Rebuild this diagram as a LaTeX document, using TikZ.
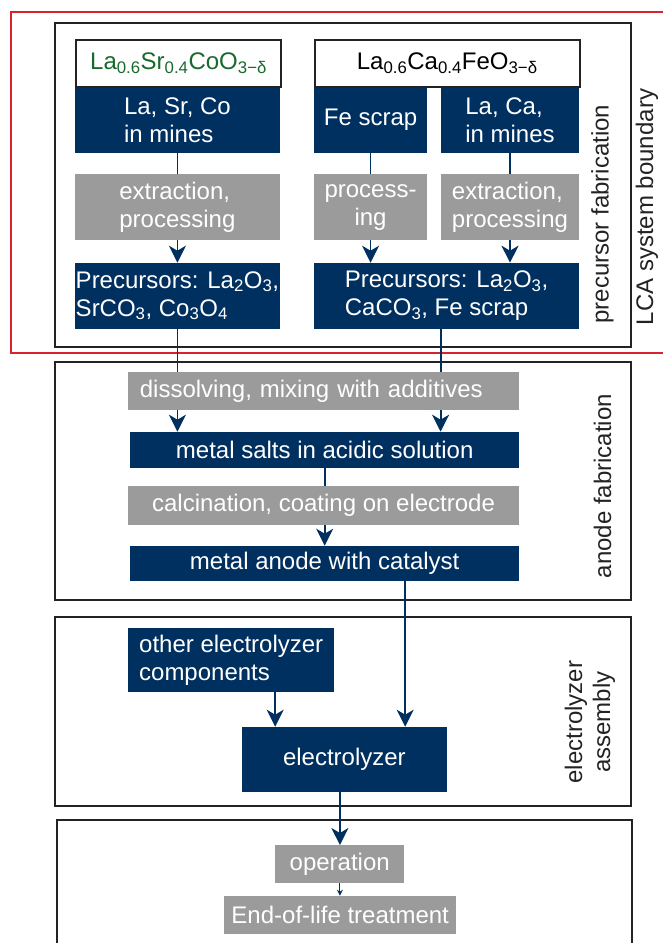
\documentclass[tikz,border=0pt]{standalone}
\usepackage{fontspec}
\setmainfont{Liberation Sans}
\usetikzlibrary{arrows.meta}
\definecolor{navy}{RGB}{0,48,96}
\definecolor{greyc}{RGB}{155,155,155}
\definecolor{formgreen}{RGB}{25,105,45}
\definecolor{redline}{RGB}{215,35,45}
\definecolor{framec}{RGB}{35,35,35}
\begin{document}
\begin{tikzpicture}[x=1pt,y=-1pt,
  font=\fontsize{24}{28}\selectfont,
  boxbase/.style={inner sep=0pt, anchor=north west, text=white, align=left},
  navybox/.style={boxbase, fill=navy},
  greybox/.style={boxbase, fill=greyc},
  formbox/.style={boxbase, fill=white, draw=framec, line width=1.8pt, align=center},
  frame/.style={draw=framec, line width=2.2pt},
  lbl/.style={rotate=90, align=center, text=framec},
  conn/.style={draw=navy, line width=1.8pt},
  arr/.style={conn, -{Stealth[length=17pt,width=17pt,inset=5pt]}},
  smallarr/.style={draw=navy, line width=1pt, -{Stealth[length=6pt,width=6pt,inset=2pt]}}
]
\useasboundingbox (0,0) rectangle (663,943);
\clip (0,0) rectangle (663,943);
\fill[white] (0,0) rectangle (663,943);

% frames
\draw[draw=redline, line width=2pt] (11.4,12.3) rectangle (690,352.7);
\draw[frame] (55,22.7) rectangle (631,346.7);
\draw[frame] (55,361.7) rectangle (631,600);
\draw[frame] (55,616.7) rectangle (631,806);
\draw[frame] (56.7,820) rectangle (632,980);

% precursor fabrication
\node[formbox, text=formgreen, minimum width=204.7pt, minimum height=47pt] (f1) at (75.3,39)
  {La\textsubscript{0.6}Sr\textsubscript{0.4}CoO\textsubscript{3−δ}};
\node[formbox, text=black, minimum width=265.3pt, minimum height=47pt] (f2) at (313.7,39)
  {La\textsubscript{0.6}Ca\textsubscript{0.4}FeO\textsubscript{3−δ}};

\node[navybox, minimum width=205.6pt, minimum height=65.4pt] (n1) at (74.4,87.3) {La, Sr, Co\\in mines};
\node[navybox, minimum width=113.3pt, minimum height=65.4pt] (n2) at (313.7,87.3) {Fe scrap};
\node[navybox, minimum width=138.4pt, minimum height=65.4pt] (n3) at (440.6,87.3) {La, Ca,\\in mines};

\node[greybox, minimum width=205.6pt, minimum height=66pt] (g1) at (74.4,174) {extraction,\\processing};
\node[greybox, align=center, minimum width=113.3pt, minimum height=66pt] (g2) at (313.7,174) {process-\\ing};
\node[greybox, minimum width=138.4pt, minimum height=66pt] (g3) at (440.6,174) {extraction,\\processing};

\node[navybox, minimum width=205.6pt, minimum height=65.6pt] (p1) at (74.4,262.7)
  {Precursors: La\textsubscript{2}O\textsubscript{3},\\SrCO\textsubscript{3}, Co\textsubscript{3}O\textsubscript{4}};
\node[navybox, minimum width=265.3pt, minimum height=65.6pt] (p2) at (313.7,262.7)
  {Precursors: La\textsubscript{2}O\textsubscript{3},\\CaCO\textsubscript{3}, Fe scrap};

\draw[conn] (n1.south) -- (g1.north);
\draw[conn] (n2.south) -- (g2.north);
\draw[conn] (n3.south) -- (g3.north);
\draw[arr] (g1.south) -- (p1.north);
\draw[arr] (g2.south) -- (g2.south |- p2.north);
\draw[arr] (g3.south) -- (g3.south |- p2.north);

% anode fabrication
\node[greybox, text width=367.3pt, inner xsep=12pt, minimum height=38.3pt] (d) at (127.7,371.7)
  {dissolving, mixing with additives};
\node[navybox, align=center, minimum width=389pt, minimum height=35.6pt] (ms) at (130,431.7)
  {metal salts in acidic solution};
\node[greybox, align=center, minimum width=391.3pt, minimum height=39.3pt] (c) at (127.7,485.7)
  {calcination, coating on electrode};
\node[navybox, align=center, minimum width=389pt, minimum height=35pt] (ma) at (130,545.7)
  {metal anode with catalyst};

\draw[conn] (p1.south) -- (p1.south |- d.north);
\draw[conn] (n3.west |- p2.south) -- (n3.west |- d.north);
\draw[arr] (p1.south |- d.south) -- (p1.south |- ms.north);
\draw[arr] (n3.west |- d.south) -- (n3.west |- ms.north);
\draw[conn] (ms.south) -- (ms.south |- c.north);
\draw[arr] (ms.south |- c.south) -- (ms.south |- ma.north);

% electrolyzer assembly
\node[navybox, minimum width=206pt, minimum height=64pt] (oc) at (128,627.7)
  {other electrolyzer\\components};
\node[navybox, align=center, minimum width=205.6pt, minimum height=65pt] (el) at (241.4,726.7)
  {electrolyzer};
\coordinate (ma1) at ([xshift=80.5pt]ma.south);
\coordinate (oc1) at ([xshift=44pt]oc.south);
\draw[arr] (ma1) -- (ma1 |- el.north);
\draw[arr] (oc1) -- (oc1 |- el.north);

% operation
\node[greybox, align=center, minimum width=129pt, minimum height=37.7pt] (op) at (275,845) {operation};
\node[greybox, align=center, minimum width=232pt, minimum height=37.6pt] (eol) at (224,895.7) {End-of-life treatment};
\coordinate (el1) at ([xshift=-4.5pt]el.south);
\draw[arr] (el1) -- (el1 |- op.north);
\draw[smallarr] (el1 |- op.south) -- (el1 |- eol.north);

% side labels
\node[lbl] (lpf) at (602.5,214) {precursor fabrication};
\node[lbl] (lca) at (647,207) {LCA system boundary};
\node[lbl] (laf) at (602.5,486) {anode fabrication};
\node[lbl] (lea) at (590,722) {electrolyzer\\assembly};
\end{tikzpicture}
\end{document}
